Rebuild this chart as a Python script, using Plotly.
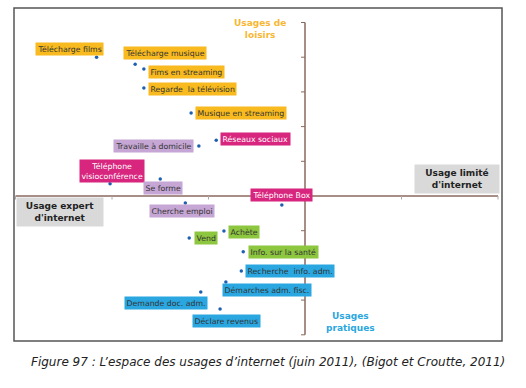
import plotly.graph_objects as go

# ---- data (coordinates in the factorial plane) ----
labels = ["Télécharge films", "Télécharge musique", "Fims en streaming", "Regarde  la télévision",
          "Musique en streaming", "Réseaux sociaux", "Travaille à domicile",
          "Téléphone<br>visioconférence", "Se forme", "Cherche emploi", "Vend", "Achète",
          "Info. sur la santé", "Recherche  info. adm.", "Démarches adm. fisc.",
          "Demande doc. adm.", "Déclare revenus", "Téléphone Box"]
x_vals = [-2.16, -1.76, -1.67, -1.67, -1.18, -0.92, -1.10, -2.02, -1.50, -1.24, -1.20, -0.84,
          -0.64, -0.66, -0.82, -1.08, -0.88, -0.24]
y_vals = [4.00, 3.80, 3.66, 3.11, 2.39, 1.61, 1.44, 0.35, 0.49, -0.20, -1.21, -1.01,
          -1.61, -2.16, -2.48, -2.77, -3.26, -0.26]
groups = ["loisirs", "loisirs", "loisirs", "loisirs", "loisirs", "social", "travail",
          "social", "travail", "travail", "achat", "achat", "achat", "admin", "admin",
          "admin", "admin", "social"]
x_ticks = [-3, -2, -1, 0, 1, 2]
y_ticks = [-4, -3, -2, -1, 0, 1, 2, 3, 4, 5]

# ---- styles / layout ----
box_colors = {"loisirs": "#F8BA1E", "social": "#D8257E", "travail": "#C5A6D4",
              "achat": "#8DC63F", "admin": "#2AA7E0"}
text_colors = {"loisirs": "#333333", "social": "#FFFFFF", "travail": "#333333",
               "achat": "#333333", "admin": "#333333"}
label_shift = [(-27, 8), (30, 11), (43, -3), (49, -1), (50, 0), (39, 1), (-45, 0),
               (2, 13), (3, -9), (-3, -8), (17, 0), (20, -1), (40, 0), (49, 0),
               (41, -8), (-35, -11), (6, -12), (0, 10)]

W, H = 526, 388
X0PX, Y0PX, XU, YU = 305, 196, 96.5, 34.7
xr = [(0 - X0PX) / XU, (W - X0PX) / XU]
yr = [(Y0PX - H) / YU, (Y0PX - 0) / YU]
axis_col = "#8A6A60"
FONT = "DejaVu Sans"

fig = go.Figure()
fig.add_trace(go.Scatter(x=x_vals, y=y_vals, mode="markers",
                         marker=dict(color="#1F5FB0", size=3.5), hoverinfo="skip"))

shapes = []
# outer frame
shapes.append(dict(type="rect", xref="paper", yref="paper", x0=14 / W, x1=502 / W,
                   y0=1 - 341 / H, y1=1 - 8 / H, line=dict(color="#555555", width=1.5)))
# axes
shapes.append(dict(type="line", x0=min(x_ticks), x1=max(x_ticks), y0=0, y1=0,
                   line=dict(color=axis_col, width=1.5)))
shapes.append(dict(type="line", x0=0, x1=0, y0=min(y_ticks), y1=max(y_ticks),
                   line=dict(color=axis_col, width=1.5)))
for t in x_ticks:
    shapes.append(dict(type="line", x0=t, x1=t, y0=0, y1=-3.5 / YU,
                       line=dict(color="#B0A8A4", width=1)))
for t in y_ticks:
    shapes.append(dict(type="line", x0=0, x1=-4 / XU, y0=t, y1=t,
                       line=dict(color=axis_col, width=1)))

ann = []
for lab, xv, yv, g, (dx, dy) in zip(labels, x_vals, y_vals, groups, label_shift):
    ann.append(dict(x=xv, y=yv, text=lab, showarrow=False, xshift=dx, yshift=dy,
                    bgcolor=box_colors[g], borderpad=1.5,
                    font=dict(family=FONT, size=7.8, color=text_colors[g])))

def pann(px, py, text, **kw):
    d = dict(xref="paper", yref="paper", x=px / W, y=1 - py / H, text=text, showarrow=False,
             xanchor="center", yanchor="middle")
    d.update(kw)
    ann.append(d)

pann(60, 212, "<b>Usage expert<br>d'internet</b>", bgcolor="#D9D9D9", borderpad=3,
     font=dict(family=FONT, size=9, color="#222222"), width=80)
pann(457, 179, "<b>Usage limité<br>d'internet</b>", bgcolor="#D9D9D9", borderpad=3,
     font=dict(family=FONT, size=9, color="#222222"), width=78)
pann(260, 29, "<b>Usages de<br>loisirs</b>", font=dict(family=FONT, size=9, color="#F8B733"))
pann(350, 322, "<b>Usages<br>pratiques</b>", font=dict(family=FONT, size=9, color="#2AA7E0"))
pann(268, 362, "<i>Figure 97 : L’espace des usages d’internet (juin 2011), (Bigot et Croutte, 2011)</i>",
     font=dict(family=FONT, size=12, color="#222222"))

fig.update_layout(width=W, height=H, margin=dict(l=0, r=0, t=0, b=0),
                  paper_bgcolor="white", plot_bgcolor="white", showlegend=False,
                  xaxis=dict(range=xr, visible=False, fixedrange=True),
                  yaxis=dict(range=yr, visible=False, fixedrange=True),
                  shapes=shapes, annotations=ann)
fig.write_html("out.html", config={"displayModeBar": False},
               post_script="document.body.style.margin='0';document.body.style.padding='0';")
